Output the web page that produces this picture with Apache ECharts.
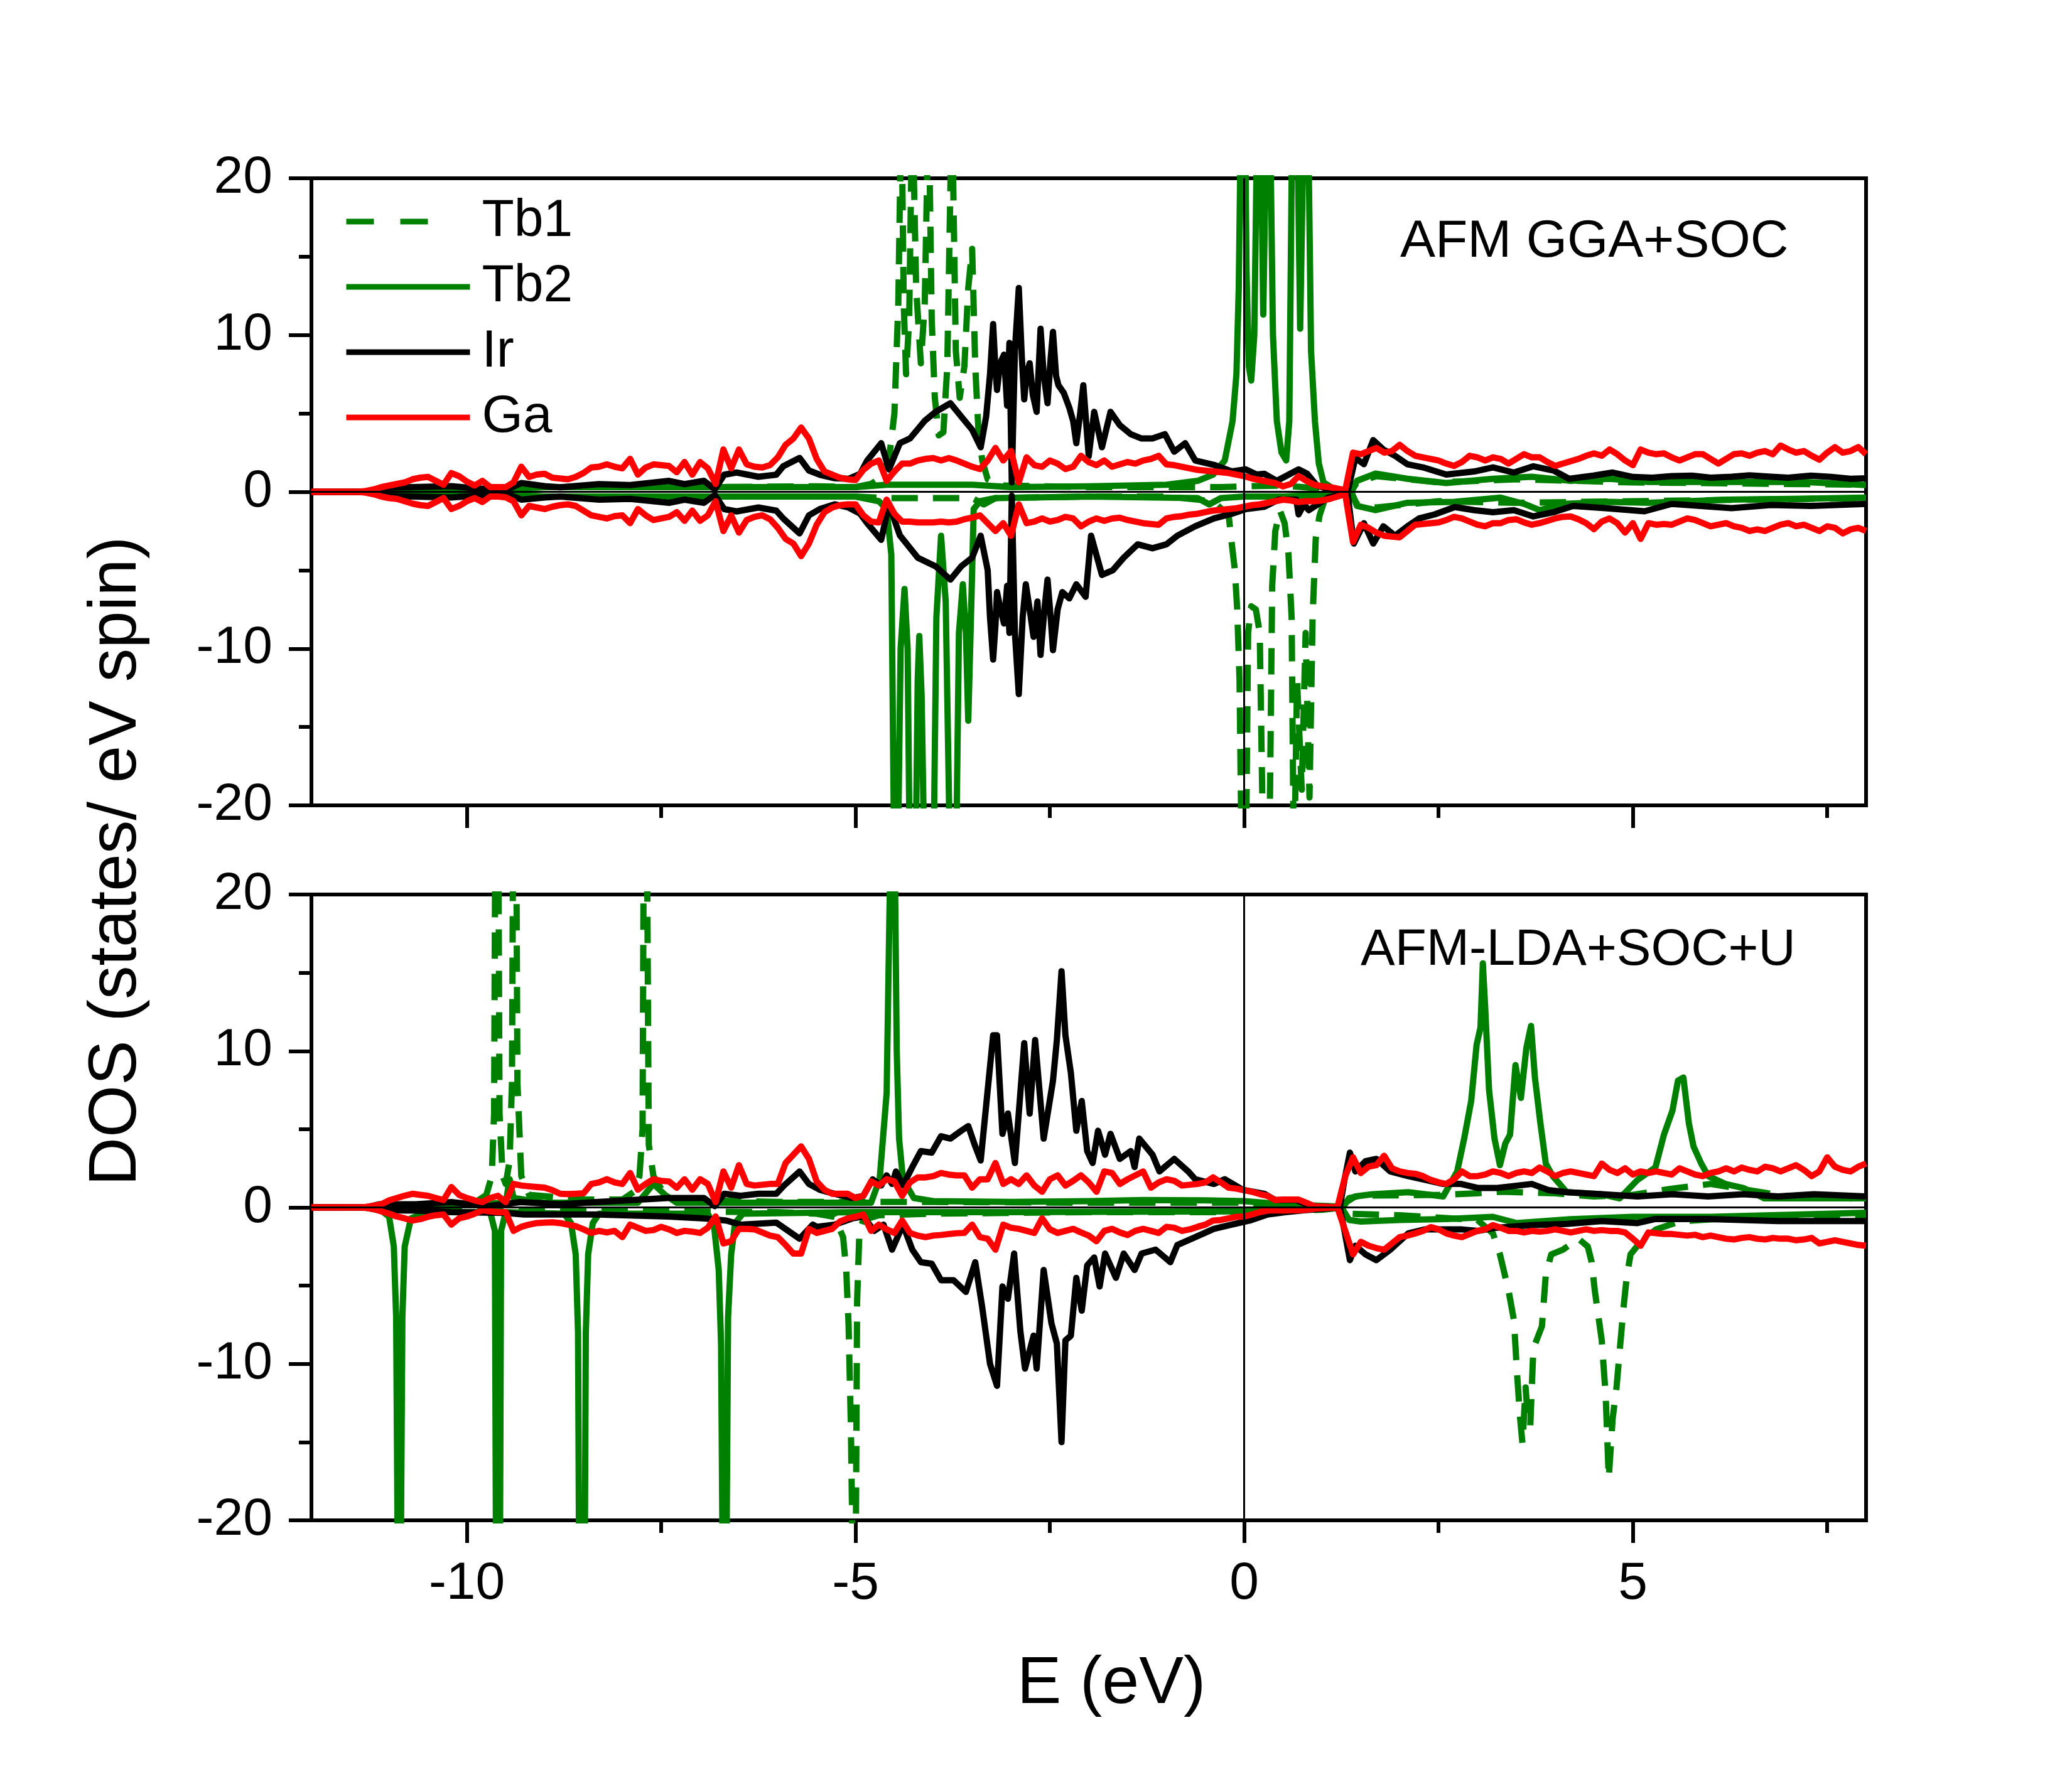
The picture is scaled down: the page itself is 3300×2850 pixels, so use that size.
<!DOCTYPE html>
<html lang="en">
<head>
<meta charset="UTF-8">
<title>DOS Tb Ir Ga</title>
<script src="https://cdn.jsdelivr.net/npm/echarts/dist/echarts.min.js"></script>
<style>
  html, body { margin: 0; padding: 0; background: #fff; }
  #chart { width: 3300px; height: 2850px; }
</style>
</head>
<body>
<div id="chart"></div>
<script>
// Ga curves are sampled on a regular energy grid, the others are [E, DOS] pairs
var E_START = -12, E_STEP = 0.1;
var xMajor = [-10, -5, 0, 5];
var xMinor = [-7.5, -2.5, 2.5, 7.5];
var legendNames = ['Tb1', 'Tb2', 'Ir', 'Ga'];
var panelTitles = ['AFM GGA+SOC', 'AFM-LDA+SOC+U'];

// ---------- top panel (AFM GGA+SOC) ----------
var tb1UpTop = [[-12,0],[-11.3,0],[-11,0.05],[-10,0.1],[-9.3,0.25],[-9,0.3],[-7,0.3],[-5.5,0.35],[-5.0,0.3],[-4.8,0.5],[-4.65,1.0],[-4.56,2.5],[-4.5,5],[-4.45,12],[-4.41,25],[-4.38,12],[-4.35,7.5],[-4.31,11],[-4.27,25],[-4.22,13],[-4.16,8.2],[-4.11,12],[-4.06,25],[-4.02,11],[-3.98,6],[-3.93,3.6],[-3.87,3.8],[-3.82,8],[-3.76,25],[-3.71,9],[-3.66,6],[-3.6,8],[-3.55,13],[-3.5,15.5],[-3.46,8],[-3.42,4],[-3.37,2],[-3.3,0.8],[-3.1,0.4],[-2,0.3],[-1,0.3],[-0.3,0.3],[0,0.35],[0.5,0.4],[1.0,0.2],[1.3,0.05],[1.38,0.05],[1.45,0.6],[1.7,1.0],[2.5,0.6],[3.5,0.8],[5,0.6],[8,0.45]];
var tb1DnTop = [[-12,0],[-11.3,0],[-11,-0.05],[-10,-0.1],[-9.3,-0.25],[-9,-0.3],[-5,-0.3],[-4.6,-0.4],[-3.5,-0.4],[-3.35,-0.8],[-3.2,-0.4],[-2,-0.3],[-1,-0.3],[-0.4,-0.6],[-0.2,-1.5],[-0.16,-3.3],[-0.12,-5],[-0.09,-7.5],[-0.06,-12],[-0.03,-25],[0.02,-25],[0.05,-9],[0.09,-7.3],[0.15,-7.5],[0.2,-9],[0.25,-25],[0.32,-25],[0.36,-6],[0.4,-2.5],[0.46,-1.2],[0.52,-2],[0.57,-4],[0.61,-8],[0.64,-25],[0.68,-12],[0.74,-19],[0.79,-9],[0.84,-19.5],[0.88,-8],[0.92,-3],[0.97,-1.5],[1.05,-0.3],[1.3,-0.05],[1.38,-0.05],[1.45,-0.8],[1.7,-1.0],[2.5,-0.6],[3.5,-0.7],[5,-0.6],[8,-0.4]];
var tb2UpTop = [[-12,0],[-11.3,0],[-11,0.05],[-10,0.1],[-9.3,0.25],[-9,0.3],[-5,0.3],[-4.6,0.45],[-3.5,0.45],[-3,0.3],[-2,0.35],[-1.5,0.4],[-1,0.45],[-0.6,0.7],[-0.4,1.1],[-0.25,2.0],[-0.15,4.5],[-0.1,7.5],[-0.07,13],[-0.04,25],[0.0,30],[0.03,14],[0.06,8],[0.09,7.1],[0.13,10],[0.17,25],[0.21,25],[0.245,11.3],[0.29,25],[0.33,25],[0.37,10],[0.42,4.5],[0.48,2.5],[0.54,2.0],[0.58,4.5],[0.62,25],[0.68,25],[0.72,10.4],[0.77,25],[0.82,25],[0.86,9],[0.91,4.5],[0.96,1.8],[1.02,0.6],[1.15,0.2],[1.3,0.05],[1.38,0.05],[1.45,0.7],[1.69,1.16],[2.1,0.83],[2.6,0.56],[3.2,0.83],[3.7,0.96],[4.2,0.7],[4.7,0.83],[5.2,0.63],[6.2,0.63],[7.2,0.63],[8,0.43]];
var tb2DnTop = [[-12,0],[-11.3,0],[-11,-0.05],[-10,-0.1],[-9.3,-0.25],[-9,-0.3],[-5.0,-0.3],[-4.7,-0.6],[-4.6,-1.1],[-4.54,-4],[-4.5,-25],[-4.46,-25],[-4.42,-10],[-4.37,-6.2],[-4.33,-10],[-4.3,-25],[-4.23,-25],[-4.2,-12],[-4.18,-9.2],[-4.15,-13],[-4.11,-25],[-4.0,-25],[-3.96,-8],[-3.9,-2.8],[-3.84,-7],[-3.78,-25],[-3.71,-25],[-3.67,-9],[-3.62,-5.9],[-3.58,-9],[-3.55,-14.6],[-3.51,-7],[-3.48,-1.1],[-3.4,-0.6],[-3.2,-0.4],[-2,-0.3],[-0.6,-0.4],[-0.45,-0.8],[-0.3,-0.4],[0,-0.3],[0.5,-0.3],[1.0,-0.2],[1.3,-0.05],[1.38,-0.05],[1.45,-0.9],[1.69,-1.17],[2.1,-0.7],[2.7,-0.64],[3.3,-0.37],[3.6,-0.77],[3.8,-1.17],[4.1,-0.77],[4.7,-0.64],[5.2,-0.7],[6.2,-0.5],[7.2,-0.44],[8,-0.37]];
var irUpTop = [[-12,0],[-11.3,0],[-11.1,0.25],[-10.7,0.3],[-10.2,0.36],[-9.9,0.23],[-9.5,0.1],[-9.3,0.56],[-9.0,0.36],[-8.8,0.29],[-8.3,0.49],[-7.9,0.43],[-7.4,0.7],[-7.2,0.49],[-6.95,0.7],[-6.81,0.16],[-6.69,1.09],[-6.53,1.23],[-6.25,0.96],[-6.02,1.09],[-5.93,1.63],[-5.72,2.16],[-5.6,1.36],[-5.46,1.09],[-5.27,0.87],[-5.09,0.83],[-4.94,1.15],[-4.85,2.0],[-4.67,3.1],[-4.57,1.43],[-4.43,3.1],[-4.3,3.4],[-4.11,4.53],[-3.97,5.1],[-3.78,5.65],[-3.64,4.8],[-3.5,3.96],[-3.39,2.84],[-3.32,4.8],[-3.27,7.5],[-3.23,10.7],[-3.2,7.8],[-3.18,6.5],[-3.14,8.2],[-3.09,8.75],[-3.05,5.5],[-3.02,9.5],[-2.99,0.6],[-2.95,9],[-2.9,13],[-2.86,8.5],[-2.83,5.9],[-2.8,7.5],[-2.76,8.2],[-2.72,6.2],[-2.67,5.1],[-2.62,10.4],[-2.58,7.5],[-2.53,5.65],[-2.49,8.5],[-2.46,10.2],[-2.42,7.4],[-2.39,6.8],[-2.32,6.3],[-2.25,5.37],[-2.2,4.5],[-2.16,3.1],[-2.11,5],[-2.07,6.8],[-2.03,4.2],[-2.0,2.28],[-1.93,5.1],[-1.83,2.84],[-1.72,5.1],[-1.6,4.25],[-1.46,3.68],[-1.32,3.4],[-1.18,3.4],[-1.02,3.68],[-0.9,2.56],[-0.76,3.1],[-0.63,2.0],[-0.39,1.72],[-0.16,1.3],[0.02,1.43],[0.16,1.1],[0.26,1.15],[0.42,0.7],[0.7,1.43],[0.81,1.15],[0.93,0.43],[1.08,0.16],[1.33,0.0],[1.43,2.16],[1.54,1.76],[1.66,3.3],[1.79,2.7],[1.94,2.3],[2.1,1.76],[2.3,1.56],[2.6,1.1],[2.96,1.3],[3.2,1.56],[3.47,1.23],[3.72,1.63],[3.98,1.36],[4.18,0.83],[4.49,1.03],[4.74,1.23],[5.0,0.95],[5.25,0.9],[5.5,1.0],[5.76,1.03],[6.0,0.9],[6.27,0.96],[6.5,1.05],[6.78,0.96],[7.0,0.9],[7.29,1.03],[7.55,0.95],[7.8,0.83],[8.0,0.86]];
var irDnTop = [[-12,0],[-11.3,0],[-11.1,-0.25],[-10.7,-0.3],[-10.2,-0.36],[-9.9,-0.25],[-9.5,-0.1],[-9.3,-0.5],[-9.0,-0.36],[-8.8,-0.3],[-8.3,-0.5],[-7.9,-0.45],[-7.4,-0.7],[-7.2,-0.5],[-6.95,-0.7],[-6.81,-0.2],[-6.69,-1.1],[-6.53,-1.25],[-6.25,-1.0],[-6.02,-1.2],[-5.93,-1.7],[-5.72,-2.65],[-5.6,-1.5],[-5.46,-1.1],[-5.27,-0.8],[-5.09,-1.0],[-4.94,-1.4],[-4.85,-2.0],[-4.67,-3.06],[-4.57,-0.8],[-4.43,-2.78],[-4.2,-4.2],[-3.97,-4.75],[-3.78,-5.6],[-3.64,-4.75],[-3.5,-4.2],[-3.39,-2.8],[-3.3,-5],[-3.27,-8],[-3.23,-10.7],[-3.2,-8.5],[-3.18,-6.4],[-3.13,-7.6],[-3.09,-8.4],[-3.05,-6],[-3.02,-9],[-2.99,-0.25],[-2.95,-9],[-2.9,-12.9],[-2.85,-8],[-2.81,-5.9],[-2.76,-7.5],[-2.71,-9.25],[-2.66,-7],[-2.62,-10.4],[-2.57,-7.5],[-2.53,-5.6],[-2.49,-8],[-2.46,-10.1],[-2.4,-7.5],[-2.34,-6.4],[-2.25,-6.8],[-2.16,-5.9],[-2.1,-6.3],[-2.04,-6.7],[-1.97,-2.8],[-1.83,-5.3],[-1.69,-5.0],[-1.55,-4.2],[-1.37,-3.35],[-1.18,-3.6],[-1.0,-3.35],[-0.86,-2.8],[-0.63,-2.2],[-0.39,-1.7],[-0.16,-1.4],[0.02,-1.1],[0.26,-0.95],[0.44,-0.5],[0.67,-0.5],[0.7,-1.44],[0.77,-0.8],[0.83,-1.17],[1.08,-0.37],[1.33,-0.1],[1.41,-3.3],[1.54,-2.0],[1.66,-3.3],[1.79,-2.2],[1.94,-2.8],[2.1,-2.2],[2.25,-1.7],[2.45,-1.44],[2.71,-0.97],[2.96,-1.17],[3.2,-1.3],[3.47,-1.17],[3.72,-1.57],[3.98,-1.3],[4.23,-0.9],[4.64,-1.04],[5.15,-1.24],[5.5,-0.77],[6.27,-1.04],[6.78,-0.84],[7.29,-0.9],[8.0,-0.77]];
var gaUpTop = [
  0,0,0,0,0,0,0,0.05,0.15,0.3,
  0.4,0.5,0.6,0.8,0.9,0.95,0.7,0.45,1.2,1.0,
  0.65,0.4,0.7,0.3,0.3,0.3,0.6,1.6,0.95,1.1,
  1.15,0.9,0.85,0.8,0.95,1.2,1.55,1.6,1.75,1.6,
  1.5,2.1,1.1,1.55,1.75,1.7,1.65,1.25,1.9,1.1,
  1.9,1.5,0.5,2.7,1.5,2.7,1.75,1.6,1.55,1.7,
  2.2,3.0,3.4,4.1,3.4,2.1,1.3,1.1,0.9,0.8,
  0.75,1.4,1.8,2.0,0.7,1.3,1.8,1.8,2.0,2.1,
  2.15,2.0,2.15,2.0,1.8,1.6,1.45,2.0,2.8,2.0,
  2.6,0.6,2.2,1.7,1.6,2.0,1.8,1.45,1.6,2.3,
  1.9,1.7,2.0,1.6,1.75,1.9,1.8,2.0,2.1,2.3,
  1.75,1.7,1.6,1.5,1.4,1.35,1.3,1.25,1.2,1.1,
  1.0,0.85,0.75,0.65,0.55,0.35,0.5,1.0,0.7,0.45,
  0.35,0.3,0.2,0.1,2.5,2.4,2.6,2.8,2.5,2.6,
  3.0,2.6,2.3,2.2,2.1,2.0,1.8,1.65,1.9,2.3,
  2.2,2.0,2.2,2.1,1.8,2.1,2.4,2.2,2.2,1.9,
  1.65,1.8,1.95,2.1,2.3,2.45,2.3,2.7,2.4,2.0,
  1.7,2.7,2.5,2.4,2.45,2.2,2.0,2.2,2.4,2.4,
  2.1,1.8,2.1,2.4,2.45,2.3,2.5,2.6,2.4,2.95,
  2.7,2.5,2.6,2.3,2.05,2.5,2.85,2.5,2.6,2.85,
  2.4];
var gaDnTop = [
  0,0,0,0,0,0,0,-0.05,-0.15,-0.3,
  -0.4,-0.45,-0.6,-0.75,-0.85,-0.9,-0.65,-0.4,-1.1,-0.9,
  -0.6,-0.4,-0.65,-0.3,-0.3,-0.35,-0.6,-1.5,-0.9,-1.0,
  -1.1,-0.95,-0.85,-0.8,-0.9,-1.2,-1.5,-1.6,-1.7,-1.55,
  -1.5,-2.0,-1.1,-1.5,-1.8,-1.7,-1.6,-1.3,-1.85,-1.2,
  -1.85,-1.5,-0.6,-2.5,-1.5,-2.6,-1.8,-1.6,-1.5,-1.75,
  -2.3,-3.0,-3.3,-4.1,-3.3,-2.1,-1.3,-1.0,-0.85,-0.8,
  -0.8,-1.5,-1.9,-1.95,-0.5,-1.4,-1.9,-1.9,-1.95,-1.95,
  -1.95,-1.9,-1.95,-1.9,-1.75,-1.65,-1.5,-2.0,-2.5,-2.0,
  -2.8,-0.8,-2.0,-1.9,-1.7,-1.9,-1.8,-1.6,-1.7,-2.2,
  -1.9,-1.7,-1.85,-1.7,-1.65,-1.8,-1.9,-2.0,-2.05,-2.1,
  -1.7,-1.6,-1.55,-1.45,-1.4,-1.3,-1.2,-1.15,-1.1,-1.05,
  -0.95,-0.85,-0.8,-0.7,-0.6,-0.5,-0.55,-0.65,-0.6,-0.6,
  -0.55,-0.45,-0.3,-0.15,-3.2,-2.1,-2.3,-2.6,-2.8,-2.85,
  -2.9,-2.5,-2.1,-2.05,-2.0,-1.95,-1.8,-1.6,-1.7,-1.9,
  -2.1,-2.2,-2.0,-2.0,-1.8,-1.75,-1.95,-2.1,-2.0,-1.85,
  -1.7,-1.6,-1.57,-1.75,-2.0,-2.38,-1.9,-1.7,-2.0,-2.6,
  -2.0,-3.0,-2.0,-2.1,-2.05,-2.1,-1.9,-1.7,-1.8,-2.0,
  -2.2,-2.1,-2.0,-2.2,-2.3,-2.5,-2.4,-2.5,-2.3,-2.1,
  -2.0,-2.2,-2.1,-2.3,-2.5,-2.2,-2.3,-2.65,-2.4,-2.3,
  -2.5];

// ---------- bottom panel (AFM-LDA+SOC+U) ----------
var tb1UpBot = [[-12,0],[-11.3,0],[-11,0.05],[-10.2,0.2],[-9.9,0.3],[-9.75,0.8],[-9.68,2],[-9.65,6],[-9.63,30],[-9.6,30],[-9.58,6],[-9.54,2],[-9.5,1.5],[-9.45,3],[-9.42,8],[-9.4,30],[-9.37,30],[-9.35,8],[-9.3,2],[-9.2,0.8],[-8.5,0.5],[-8.0,0.5],[-7.85,1],[-7.78,2],[-7.74,5],[-7.72,30],[-7.69,30],[-7.66,4],[-7.6,2],[-7.5,1.2],[-7.3,0.5],[-6,0.35],[-4,0.35],[-2,0.3],[0,0.3],[0.5,0.15],[1.0,0.05],[1.27,0],[1.35,0.6],[1.5,0.75],[2.5,0.8],[3.0,0.9],[3.3,1.0],[4.0,0.9],[4.5,0.7],[5,0.8],[5.5,1.2],[6.0,1.5],[6.5,1.1],[7,0.7],[8,0.55]];
var tb1DnBot = [[-12,0],[-11.3,0],[-11,-0.05],[-10,-0.1],[-9.3,-0.2],[-6,-0.3],[-5.5,-0.4],[-5.27,-0.6],[-5.16,-1.9],[-5.12,-4],[-5.09,-7.4],[-5.06,-14],[-5.03,-25],[-5.0,-25],[-4.98,-6],[-4.95,-1.5],[-4.9,-0.8],[-4.7,-0.5],[-4,-0.4],[-2,-0.3],[0,-0.3],[1.0,-0.15],[1.27,0],[1.35,-0.4],[2,-0.5],[3.0,-0.8],[3.2,-1.66],[3.29,-3.0],[3.4,-5.3],[3.47,-7.2],[3.51,-10.6],[3.55,-13.5],[3.58,-15.1],[3.62,-11.5],[3.65,-13.5],[3.68,-14],[3.72,-9],[3.76,-8.5],[3.83,-7.6],[3.88,-4.3],[3.95,-3.0],[4.1,-2.7],[4.3,-2.0],[4.42,-2.5],[4.47,-3.5],[4.51,-5.3],[4.6,-8.5],[4.65,-12],[4.69,-17.3],[4.74,-13.5],[4.79,-11.5],[4.83,-9.2],[4.88,-6.4],[4.92,-4.5],[4.97,-3.0],[5.1,-2.2],[5.3,-1.4],[5.6,-0.9],[6.5,-0.6],[8,-0.5]];
var tb2UpBot = [[-12,0],[-11.3,0],[-11,0.05],[-10,0.15],[-9.5,0.3],[-9.45,1.8],[-9.4,0.6],[-9,0.3],[-7.8,0.3],[-7.6,1.5],[-7.45,0.8],[-7.3,0.3],[-5,0.3],[-4.8,0.3],[-4.69,1.8],[-4.6,7.3],[-4.56,20],[-4.52,23],[-4.49,20],[-4.47,10],[-4.44,4.4],[-4.39,1.8],[-4.25,0.6],[-4.0,0.4],[-3,0.35],[-2,0.4],[-1.3,0.47],[-0.5,0.45],[0,0.4],[0.5,0.2],[1.0,0.1],[1.25,0.05],[1.3,0.3],[1.43,0.7],[1.65,0.84],[2.11,0.97],[2.56,0.7],[2.74,2.3],[2.83,4.4],[2.92,6.8],[2.99,10.4],[3.04,11.5],[3.07,15.6],[3.1,12.8],[3.15,7.5],[3.22,4.4],[3.29,2.7],[3.36,4.1],[3.42,4.65],[3.49,9.1],[3.56,7.0],[3.63,10.2],[3.69,11.6],[3.74,8.3],[3.81,5.4],[3.88,2.8],[3.97,2.0],[4.15,0.97],[4.6,0.84],[4.83,0.58],[5.06,1.76],[5.29,2.55],[5.4,4.65],[5.51,6.2],[5.58,8.1],[5.65,8.3],[5.72,5.4],[5.78,3.9],[5.88,2.8],[5.97,2.0],[6.19,1.5],[6.42,1.24],[6.69,0.58],[7.1,0.58],[7.55,0.58],[8.0,0.58]];
var tb2DnBot = [[-12,0],[-11.3,0],[-11.1,-0.2],[-11.0,-0.6],[-10.94,-2.5],[-10.91,-7],[-10.88,-30],[-10.86,-30],[-10.83,-7],[-10.8,-2.5],[-10.72,-0.7],[-10.5,-0.3],[-9.7,-0.3],[-9.64,-1.5],[-9.62,-30],[-9.58,-30],[-9.56,-1.5],[-9.5,-0.3],[-8.75,-0.4],[-8.66,-1],[-8.6,-3],[-8.57,-8],[-8.55,-30],[-8.49,-30],[-8.47,-8],[-8.44,-3],[-8.38,-1],[-8.3,-0.4],[-6.9,-0.4],[-6.82,-1.2],[-6.76,-4],[-6.73,-8.7],[-6.7,-30],[-6.67,-30],[-6.64,-7],[-6.6,-3],[-6.55,-1],[-6.45,-0.4],[-5,-0.3],[-3,-0.3],[0,-0.25],[1.0,-0.1],[1.25,0],[1.35,-0.8],[1.5,-0.9],[2.0,-0.8],[2.6,-0.74],[3.2,-0.6],[3.5,-1.0],[4.2,-0.75],[5,-0.6],[6,-0.6],[7,-0.47],[8,-0.34]];
var irUpBot = [[-12,0],[-11.3,0],[-11.13,0.2],[-10.66,0.2],[-10.2,0.34],[-9.73,0.08],[-9.31,0.34],[-8.8,0.2],[-8.34,0.34],[-7.87,0.47],[-7.41,0.6],[-6.95,0.6],[-6.81,0.08],[-6.69,0.87],[-6.48,0.74],[-6.25,0.87],[-6.02,0.87],[-5.92,1.4],[-5.72,2.3],[-5.6,1.5],[-5.46,1.13],[-5.27,0.87],[-5.04,0.6],[-4.9,0.74],[-4.78,1.79],[-4.67,1.4],[-4.6,2.05],[-4.53,1.5],[-4.48,2.3],[-4.39,1.4],[-4.27,2.58],[-4.16,3.6],[-4.02,3.5],[-3.9,4.55],[-3.78,4.4],[-3.64,4.9],[-3.55,5.2],[-3.46,3.9],[-3.39,3.0],[-3.32,6.5],[-3.23,11.0],[-3.18,11.0],[-3.11,4.7],[-3.04,6.0],[-2.95,2.84],[-2.83,10.5],[-2.76,6.0],[-2.69,10.7],[-2.58,4.4],[-2.46,8.1],[-2.41,10.7],[-2.35,15.1],[-2.3,11.0],[-2.23,8.6],[-2.16,4.9],[-2.09,6.8],[-2.02,3.6],[-1.95,2.84],[-1.88,4.9],[-1.79,3.37],[-1.72,4.7],[-1.6,3.1],[-1.46,3.6],[-1.41,2.58],[-1.35,4.4],[-1.18,3.37],[-1.09,2.3],[-0.9,3.1],[-0.72,2.3],[-0.63,1.8],[-0.39,1.5],[-0.25,1.8],[-0.02,1.13],[0.26,0.87],[0.4,0.47],[0.67,0.47],[0.86,0.08],[1.23,0.0],[1.29,1.76],[1.36,3.5],[1.43,2.3],[1.56,2.95],[1.7,3.1],[1.88,2.3],[2.11,2.0],[2.33,1.76],[2.56,1.5],[2.79,1.5],[3.01,1.24],[3.24,1.24],[3.47,1.37],[3.7,1.5],[3.92,1.1],[4.15,0.97],[4.6,0.84],[5.06,0.7],[5.51,0.84],[5.97,0.7],[6.42,0.84],[6.87,0.7],[7.33,0.84],[8.0,0.7]];
var irDnBot = [[-12,0],[-11.3,0],[-11.13,-0.18],[-10.66,-0.2],[-10.2,-0.3],[-9.5,-0.35],[-9.27,-0.45],[-8.34,-0.45],[-7.41,-0.58],[-6.95,-0.7],[-6.66,-0.84],[-6.48,-1.1],[-6.02,-0.97],[-5.72,-2.0],[-5.55,-1.1],[-5.5,-1.24],[-5.27,-1.1],[-5.04,-0.7],[-4.9,-0.58],[-4.76,-1.5],[-4.64,-1.1],[-4.53,-2.7],[-4.39,-1.1],[-4.27,-2.7],[-4.16,-3.5],[-4.02,-3.6],[-3.9,-4.65],[-3.74,-4.65],[-3.58,-5.4],[-3.46,-3.5],[-3.37,-6.4],[-3.27,-10],[-3.18,-11.4],[-3.11,-5.05],[-3.04,-5.84],[-2.96,-2.95],[-2.88,-7.9],[-2.82,-10.3],[-2.71,-8.2],[-2.67,-10.3],[-2.58,-4.0],[-2.48,-7.4],[-2.41,-8.7],[-2.35,-15],[-2.3,-8.5],[-2.23,-8.2],[-2.16,-4.5],[-2.09,-6.6],[-2.02,-3.7],[-1.93,-3.2],[-1.86,-5.05],[-1.79,-2.95],[-1.65,-4.5],[-1.55,-2.95],[-1.41,-4.0],[-1.32,-2.95],[-1.14,-2.7],[-0.95,-3.5],[-0.86,-2.4],[-0.63,-1.9],[-0.39,-1.37],[-0.16,-1.1],[0.07,-0.84],[0.3,-0.45],[0.53,-0.3],[0.77,-0.18],[1.23,0],[1.29,-1.5],[1.36,-3.37],[1.43,-2.45],[1.56,-3.0],[1.7,-3.37],[1.88,-2.7],[2.11,-1.66],[2.33,-1.4],[2.79,-1.4],[3.01,-1.5],[3.24,-1.3],[3.7,-1.13],[4.15,-1.05],[4.6,-0.87],[5.06,-1.0],[5.29,-0.74],[5.97,-0.74],[6.87,-0.87],[8.0,-0.87]];
var gaUpBot = [
  0,0,0,0,0,0,0,0.03,0.1,0.2,
  0.45,0.6,0.75,0.87,0.8,0.74,0.6,0.47,1.3,0.8,
  0.6,0.45,0.34,0.6,0.74,0.34,1.5,1.4,1.35,1.3,
  1.26,1.1,0.87,0.85,0.87,0.9,1.5,1.6,1.8,1.6,
  1.5,2.2,1.13,1.5,1.8,1.7,1.66,1.26,1.8,1.13,
  1.8,1.5,0.34,2.3,1.26,2.7,1.5,1.4,1.45,1.5,
  1.5,2.84,3.37,3.9,3.1,1.66,1.13,0.87,0.87,0.87,
  0.6,0.74,1.66,1.4,1.8,1.66,0.74,1.6,1.92,1.92,
  2.0,2.2,2.1,2.05,2.05,1.26,1.8,1.8,2.84,1.5,
  1.8,1.5,2.05,1.4,1.0,1.8,2.05,1.4,1.7,2.05,
  1.6,1.0,2.3,2.2,1.5,1.8,2.05,2.3,1.26,1.6,
  1.8,1.7,1.4,1.45,1.5,1.6,1.92,1.6,1.26,1.2,
  1.1,1.0,0.85,0.74,0.47,0.5,0.5,0.5,0.3,0.08,
  0.05,0.03,0.02,2.0,3.2,2.2,2.6,2.7,3.3,2.5,
  2.3,2.2,2.15,2.0,1.76,1.6,1.5,1.8,2.3,2.0,
  2.0,2.1,2.3,2.2,2.0,2.2,2.3,2.2,2.55,2.3,
  2.0,2.2,2.3,2.2,2.1,2.0,2.8,2.4,2.2,2.5,
  2.1,2.3,2.2,2.3,2.2,2.1,2.5,2.3,2.1,2.0,
  2.2,2.3,2.5,2.3,2.55,2.4,2.3,2.6,2.5,2.3,
  2.5,2.7,2.4,2.0,2.3,3.2,2.6,2.4,2.3,2.6,
  2.8];
var gaDnBot = [
  0,0,0,0,0,0,0,-0.03,-0.1,-0.25,
  -0.4,-0.58,-0.7,-0.84,-0.75,-0.6,-0.5,-0.45,-1.1,-0.7,
  -0.58,-0.4,-0.18,-0.25,-0.3,-0.3,-1.5,-1.24,-1.1,-1.0,
  -0.97,-0.95,-1.0,-1.1,-1.2,-1.4,-1.63,-1.5,-1.6,-1.5,
  -1.9,-1.1,-1.3,-1.5,-1.45,-1.24,-1.4,-1.63,-1.5,-1.55,
  -1.63,-1.3,-0.58,-2.3,-2.16,-1.37,-1.37,-1.4,-1.6,-1.8,
  -1.9,-2.4,-2.95,-2.95,-1.37,-1.63,-1.5,-1.37,-0.9,-0.7,
  -0.6,-0.45,-1.5,-1.1,-1.4,-1.63,-0.84,-1.63,-1.8,-1.9,
  -1.8,-1.76,-1.7,-1.65,-1.63,-1.1,-1.9,-2.0,-2.7,-1.1,
  -1.3,-1.37,-1.5,-1.63,-0.7,-1.4,-1.63,-1.5,-1.37,-1.6,
  -1.8,-2.16,-1.5,-1.37,-1.6,-1.76,-1.5,-1.37,-1.5,-1.63,
  -1.24,-1.3,-1.5,-1.4,-1.24,-1.1,-0.84,-0.8,-0.7,-0.6,
  -0.58,-0.45,-0.3,-0.2,-0.18,-0.2,-0.18,-0.18,-0.15,-0.08,
  -0.05,-0.03,-0.02,-1.5,-3.0,-2.2,-2.45,-2.6,-2.7,-2.3,
  -1.9,-1.8,-1.66,-1.5,-1.26,-1.4,-1.66,-1.8,-1.9,-1.7,
  -1.5,-1.4,-1.13,-1.3,-1.5,-1.5,-1.6,-1.5,-1.55,-1.5,
  -1.4,-1.5,-1.6,-1.5,-1.4,-1.5,-1.45,-1.5,-1.5,-1.6,
  -2.0,-2.45,-1.6,-1.65,-1.7,-1.7,-1.75,-1.8,-1.75,-1.9,
  -1.8,-1.9,-2.0,-2.05,-1.95,-1.9,-2.0,-2.05,-1.95,-2.0,
  -2.0,-2.1,-2.05,-1.95,-2.3,-2.2,-2.1,-2.2,-2.3,-2.4,
  -2.45];

var FONT = '"Liberation Sans", Arial, sans-serif';
var GREEN = '#008000', BLACK = '#000000', RED = '#ff0000';

function onGrid(vals) {
  return vals.map(function (v, i) {
    return [Math.round((E_START + i * E_STEP) * 10) / 10, v];
  });
}

function curve(name, data, panel, color, dashed) {
  return {
    name: name,
    type: 'line',
    xAxisIndex: panel * 2,
    yAxisIndex: panel,
    data: data,
    symbol: 'none',
    showSymbol: false,
    clip: true,
    silent: true,
    animation: false,
    lineStyle: { color: color, width: 10, type: dashed ? [42, 24] : 'solid', join: 'round' },
    itemStyle: { color: color }
  };
}

function xAxes(p) {
  var major = {
    type: 'value', gridIndex: p, min: -12, max: 8, position: 'bottom',
    splitLine: { show: false },
    axisLine: { show: true, onZero: false, lineStyle: { color: '#000', width: 6 } },
    axisTick: { show: true, inside: false, length: 36, customValues: xMajor, lineStyle: { color: '#000', width: 6 } },
    axisLabel: { show: p === 1, customValues: xMajor, margin: 60, fontSize: 84, fontFamily: FONT, color: '#000' }
  };
  var minor = {
    type: 'value', gridIndex: p, min: -12, max: 8, position: 'bottom',
    splitLine: { show: false },
    axisLine: { show: false, onZero: false },
    axisTick: { show: true, inside: false, length: 20, customValues: xMinor, lineStyle: { color: '#000', width: 6 } },
    axisLabel: { show: false }
  };
  return [major, minor];
}

function yAxis(p) {
  return {
    type: 'value', gridIndex: p, min: -20, max: 20, interval: 10,
    splitLine: { show: false },
    minorSplitLine: { show: false },
    axisLine: { show: true, onZero: false, lineStyle: { color: '#000', width: 6 } },
    axisTick: { show: true, inside: false, length: 36, lineStyle: { color: '#000', width: 6 } },
    minorTick: { show: true, splitNumber: 2, length: 20, lineStyle: { color: '#000', width: 6 } },
    axisLabel: { margin: 62, fontSize: 84, fontFamily: FONT, color: '#000' }
  };
}

var zeroLines = {
  silent: true,
  symbol: ['none', 'none'],
  label: { show: false },
  animation: false,
  lineStyle: { color: '#000', width: 3, type: 'solid' },
  data: [{ yAxis: 0 }, { xAxis: 0 }]
};

var panels = [
  { tb1Up: tb1UpTop, tb1Dn: tb1DnTop, tb2Up: tb2UpTop, tb2Dn: tb2DnTop, irUp: irUpTop, irDn: irDnTop, gaUp: gaUpTop, gaDn: gaDnTop },
  { tb1Up: tb1UpBot, tb1Dn: tb1DnBot, tb2Up: tb2UpBot, tb2Dn: tb2DnBot, irUp: irUpBot, irDn: irDnBot, gaUp: gaUpBot, gaDn: gaDnBot }
];

var series = [];
panels.forEach(function (d, p) {
  series.push(curve('Tb1', d.tb1Up, p, GREEN, true));
  series.push(curve('Tb1', d.tb1Dn, p, GREEN, true));
  series.push(curve('Tb2', d.tb2Up, p, GREEN, false));
  series.push(curve('Tb2', d.tb2Dn, p, GREEN, false));
  series.push(curve('Ir', d.irUp, p, BLACK, false));
  series.push(curve('Ir', d.irDn, p, BLACK, false));
  series.push(curve('Ga', onGrid(d.gaUp), p, RED, false));
  var last = curve('Ga', onGrid(d.gaDn), p, RED, false);
  last.markLine = zeroLines;
  series.push(last);
});

var chart = echarts.init(document.getElementById('chart'), null, { renderer: 'canvas' });

chart.setOption({
  backgroundColor: '#ffffff',
  animation: false,
  grid: [
    { left: 496, top: 284, width: 2476, height: 999, show: true, borderColor: '#000', borderWidth: 6, backgroundColor: 'transparent' },
    { left: 496, top: 1425, width: 2476, height: 997, show: true, borderColor: '#000', borderWidth: 6, backgroundColor: 'transparent' }
  ],
  xAxis: xAxes(0).concat(xAxes(1)),
  yAxis: [yAxis(0), yAxis(1)],
  legend: {
    orient: 'vertical',
    left: 547,
    top: 311,
    padding: 0,
    itemWidth: 197,
    itemHeight: 20,
    itemGap: 20,
    selectedMode: false,
    itemStyle: { opacity: 0, borderWidth: 0 },
    lineStyle: { width: 9, opacity: 1 },
    textStyle: { fontSize: 84, fontFamily: FONT, color: '#000', padding: [0, 0, 0, 14] },
    data: [
      { name: legendNames[0], lineStyle: { width: 9, opacity: 1, type: [44, 42, 44, 300] } },
      legendNames[1], legendNames[2], legendNames[3]
    ]
  },
  graphic: [
    { type: 'text', left: 2230, top: 344, silent: true,
      style: { text: panelTitles[0], font: '84px "Liberation Sans", Arial, sans-serif', fill: '#000' } },
    { type: 'text', left: 2167, top: 1473, silent: true,
      style: { text: panelTitles[1], font: '82px "Liberation Sans", Arial, sans-serif', fill: '#000' } },
    { type: 'text', x: 186, y: 1372, rotation: Math.PI / 2, silent: true,
      style: { text: 'DOS (states/ eV spin)', font: '107px "Liberation Sans", Arial, sans-serif', fill: '#000',
               textAlign: 'center', textVerticalAlign: 'middle', align: 'center', verticalAlign: 'middle' } },
    { type: 'text', x: 1770, y: 2684, silent: true,
      style: { text: 'E (eV)', font: '106px "Liberation Sans", Arial, sans-serif', fill: '#000',
               textAlign: 'center', textVerticalAlign: 'middle', align: 'center', verticalAlign: 'middle' } }
  ],
  series: series
});
</script>
</body>
</html>
